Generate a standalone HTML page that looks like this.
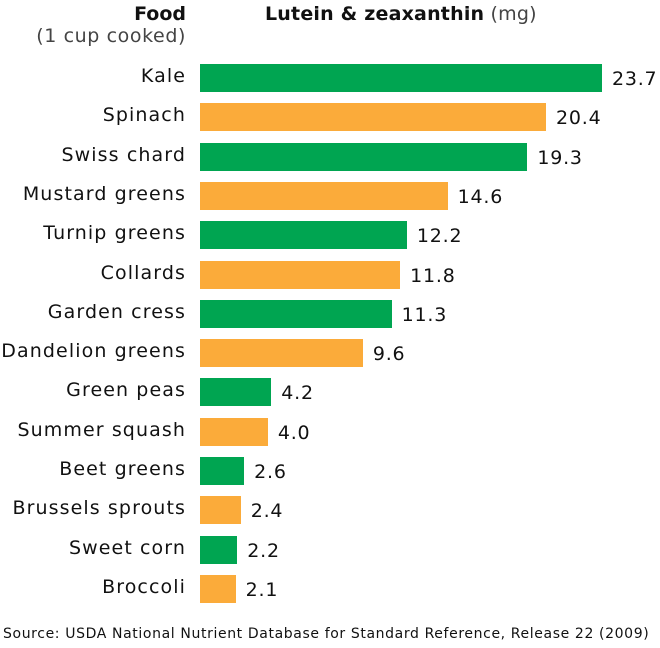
<!DOCTYPE html><html><head><style>
body{margin:0;background:#fff;width:660px;height:648px;overflow:hidden;position:relative;font-family:"DejaVu Sans","Liberation Sans",sans-serif;color:#111}
.l{position:absolute;right:474px;font-size:19px;white-space:nowrap;text-align:right;letter-spacing:1.1px}
.b{position:absolute;left:200px;height:28px}
.v{position:absolute;font-size:19px;letter-spacing:0.8px}
</style></head><body>
<div class="l" style="top:3px;font-weight:bold;letter-spacing:0">Food</div>
<div class="l" style="top:25px;color:#444;letter-spacing:0.6px">(1 cup cooked)</div>
<div style="position:absolute;left:265px;top:3px;font-size:19px;white-space:nowrap;letter-spacing:0.2px"><b>Lutein &amp; zeaxanthin</b> <span style="color:#444">(mg)</span></div>
<div id="c"></div>
<div style="position:absolute;left:3px;top:626px;font-size:14px;white-space:nowrap;letter-spacing:0.62px">Source: USDA National Nutrient Database for Standard Reference, Release 22 (2009)</div>
<script>
var d=[["Kale",23.7],["Spinach",20.4],["Swiss chard",19.3],["Mustard greens",14.6],["Turnip greens",12.2],["Collards",11.8],["Garden cress",11.3],["Dandelion greens",9.6],["Green peas",4.2],["Summer squash",4.0],["Beet greens",2.6],["Brussels sprouts",2.4],["Sweet corn",2.2],["Broccoli",2.1]];
var h="";d.forEach(function(r,i){var y=64+i*39.3,w=r[1]*16.96;
h+='<div class="l" style="top:'+(y+1)+'px">'+r[0]+'</div><div class="b" style="top:'+y+'px;width:'+w+'px;background:'+(i%2?'#fbab3a':'#00a551')+'"></div><div class="v" style="top:'+(y+4)+'px;left:'+(210+w)+'px">'+r[1].toFixed(1)+'</div>';});
document.getElementById("c").innerHTML=h;
</script></body></html>
